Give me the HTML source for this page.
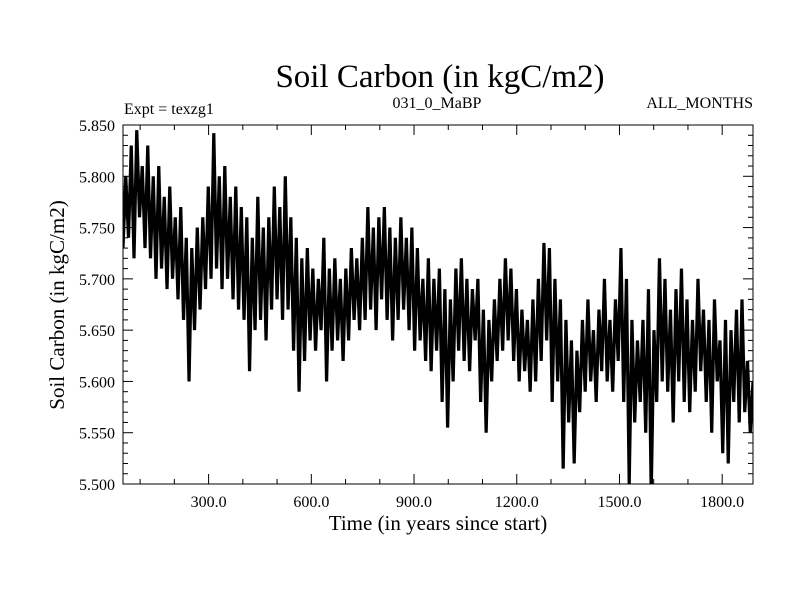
<!DOCTYPE html>
<html><head><meta charset="utf-8"><style>
body{margin:0;background:#fff}
svg text{font-family:"Liberation Serif",serif;fill:#000}
</style></head><body>
<svg id="chart" width="800" height="600" xmlns="http://www.w3.org/2000/svg">
<defs><clipPath id="plotclip"><rect x="123" y="125" width="630" height="359"/></clipPath></defs>
<text x="440" y="87" font-size="33" text-anchor="middle">Soil Carbon (in kgC/m2)</text>
<text x="124" y="114" font-size="16">Expt = texzg1</text>
<text x="437" y="108" font-size="16" text-anchor="middle">031_0_MaBP</text>
<text x="753" y="108" font-size="16" text-anchor="end">ALL_MONTHS</text>
<text x="438" y="530" font-size="21" text-anchor="middle">Time (in years since start)</text>
<text transform="translate(64,305) rotate(-90)" font-size="21" text-anchor="middle">Soil Carbon (in kgC/m2)</text>
<g id="ticks"></g>
<path id="series" fill="none" stroke="#000" stroke-width="3.2" stroke-linejoin="miter" stroke-miterlimit="2" clip-path="url(#plotclip)"/>
<rect x="123" y="125" width="630" height="359" fill="none" stroke="#000" stroke-width="1"/>
</svg>
<script>
const startYear = 50;
const endYear = 1890;
const yTickLabels = ["5.500","5.550","5.600","5.650","5.700","5.750","5.800","5.850"];
const yTickValues = [5.50,5.55,5.60,5.65,5.70,5.75,5.80,5.85];
const xTickValues = [300,600,900,1200,1500,1800];
const xTickLabels = ["300.0","600.0","900.0","1200.0","1500.0","1800.0"];
const soilCarbon = [
5.73,5.80,5.74,5.83,5.72,5.845,5.76,5.81,5.73,5.83,5.72,5.80,5.70,5.81,5.71,5.78,5.69,5.79,5.70,5.76,5.68,5.77,5.66,5.74,5.60,5.73,5.65,5.75,5.67,5.76,5.69,5.79,
5.70,5.842,5.71,5.80,5.69,5.81,5.70,5.78,5.68,5.79,5.67,5.77,5.66,5.76,5.61,5.74,5.65,5.78,5.66,5.75,5.64,5.76,5.67,5.79,5.68,
5.77,5.66,5.80,5.67,5.76,5.63,5.74,5.59,5.72,5.62,5.73,5.64,5.71,5.63,5.70,5.65,5.74,5.60,5.71,5.63,5.72,5.64,5.70,5.62,5.71,5.64,5.73,5.66,5.72,5.65,5.74,
5.66,5.77,5.67,5.75,5.65,5.76,5.68,5.77,5.66,5.75,5.64,5.74,5.66,5.76,5.67,5.74,5.65,5.75,5.63,5.73,5.64,5.70,5.62,5.72,5.61,5.70,5.63,5.71,5.58,5.69,5.555,
5.68,5.60,5.71,5.63,5.72,5.62,5.70,5.61,5.69,5.64,5.70,5.58,5.67,5.55,5.66,5.60,5.68,5.62,5.70,5.63,5.72,5.64,5.71,5.62,5.69,5.60,5.67,5.61,5.66,5.59,5.68,
5.60,5.70,5.62,5.735,5.64,5.73,5.58,5.70,5.60,5.68,5.515,5.66,5.56,5.64,5.52,5.63,5.57,5.66,5.59,5.68,5.60,5.65,5.58,5.67,5.61,5.70,5.60,5.66,5.59,5.68,5.62,
5.73,5.58,5.70,5.50,5.66,5.56,5.64,5.58,5.66,5.55,5.69,5.49,5.65,5.58,5.72,5.60,5.70,5.59,5.67,5.56,5.69,5.60,5.71,5.58,5.68,5.57,5.66,5.59,5.70,5.61,5.67,
5.58,5.66,5.55,5.68,5.60,5.64,5.53,5.66,5.52,5.65,5.58,5.67,5.56,5.68,5.57,5.62,5.55,5.60
];
const X0=123,X1=753,Y0=484,Y1=125,YMIN=5.5,YMAX=5.85;
function xs(t){return X0+(t-startYear)/(endYear-startYear)*(X1-X0);}
function ys(v){return Y0-(v-YMIN)/(YMAX-YMIN)*(Y0-Y1);}
const NS="http://www.w3.org/2000/svg";
const g=document.getElementById('ticks');
function line(x1,y1,x2,y2,name){const l=document.createElementNS(NS,'line');
l.setAttribute('x1',x1);l.setAttribute('y1',y1);l.setAttribute('x2',x2);l.setAttribute('y2',y2);
l.setAttribute('stroke','#000');l.setAttribute('stroke-width','1');


g.appendChild(l);}
function text(x,y,s,anchor,name){const t=document.createElementNS(NS,'text');
t.setAttribute('x',x);t.setAttribute('y',y);t.setAttribute('font-size','16');t.setAttribute('text-anchor',anchor);t.textContent=s;


g.appendChild(t);}
for(let v=5.50;v<=5.8501;v+=0.01){const y=ys(v);const major=Math.abs(Math.round(v*100)%5)===0;const L=major?10:5;
line(X0,y,X0+L,y,'y-tick');line(X1,y,X1-L,y,'y-tick-right');}
yTickValues.forEach((v,i)=>text(X0-8,ys(v)+6,yTickLabels[i],'end','y-tick-label'));
for(let t=100;t<=endYear;t+=100){const x=xs(t);const major=t%300===0;const L=major?10:5;
line(x,Y0,x,Y0-L,'x-tick');line(x,Y1,x,Y1+L,'x-tick-top');}
xTickValues.forEach((t,i)=>text(xs(t),Y0+23,xTickLabels[i],'middle','x-tick-label'));
const step=(endYear-startYear)/(soilCarbon.length-1);
let d='';soilCarbon.forEach((v,i)=>{d+=(i?'L':'M')+xs(startYear+i*step).toFixed(2)+','+ys(v).toFixed(2);});
document.getElementById('series').setAttribute('d',d);
</script>
</body></html>
